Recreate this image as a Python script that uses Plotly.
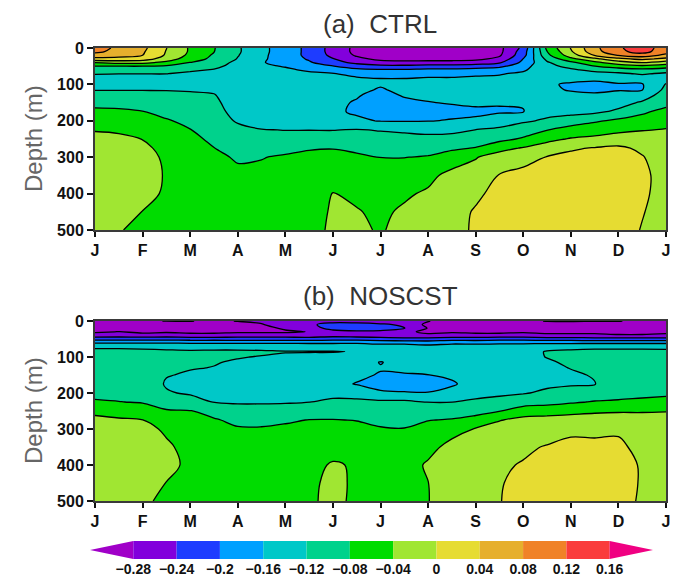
import plotly.graph_objects as go

# ---------------- data ----------------
months = [0, 0.5, 1, 1.5, 2, 2.5, 3, 3.5, 4, 4.5, 5, 5.5, 6,
          6.5, 7, 7.5, 8, 8.5, 9, 9.5, 10, 10.5, 11, 11.5, 12]
depths = [0, 10, 20, 30, 40, 50, 60, 70, 85, 100, 115, 130, 150, 175,
          200, 225, 250, 275, 300, 350, 400, 450, 500]

month_ticks = [0, 1, 2, 3, 4, 5, 6, 7, 8, 9, 10, 11, 12]
month_labels = ["J", "F", "M", "A", "M", "J", "J", "A", "S", "O", "N", "D", "J"]
depth_ticks = [0, 100, 200, 300, 400, 500]

levels = [-0.28, -0.24, -0.20, -0.16, -0.12, -0.08, -0.04, 0.0, 0.04, 0.08, 0.12, 0.16]
level_labels = ["\u22120.28", "\u22120.24", "\u22120.2", "\u22120.16", "\u22120.12", "\u22120.08",
                "\u22120.04", "0", "0.04", "0.08", "0.12", "0.16"]
band_colors = ["#a000c8", "#8200dc", "#1e3cff", "#00a0ff", "#00c8c8", "#00d28c", "#00dc00",
               "#a0e632", "#e6dc32", "#e6af2d", "#f08228", "#fa3c3c", "#f00082"]

# one vertical profile (values at `depths`) per month column
ctrl_profiles = [
    [0.10, 0.09, 0.06, 0.03, -0.04, -0.08, -0.105, -0.118, -0.13, -0.128, -0.121, -0.108, -0.088, -0.074, -0.058, -0.0415, -0.033, -0.028, -0.025, -0.022, -0.022, -0.025, -0.03],
    [0.07, 0.065, 0.05, 0.03, -0.03, -0.08, -0.105, -0.119, -0.132, -0.13, -0.121, -0.11, -0.09, -0.075, -0.06, -0.044, -0.034, -0.028, -0.025, -0.022, -0.024, -0.03, -0.038],
    [0.05, 0.045, 0.04, 0.02, -0.03, -0.08, -0.105, -0.119, -0.132, -0.13, -0.121, -0.112, -0.095, -0.079, -0.065, -0.052, -0.0405, -0.034, -0.031, -0.03, -0.033, -0.0405, -0.048],
    [0.001, -0.002, -0.005, -0.02, -0.05, -0.085, -0.108, -0.119, -0.132, -0.13, -0.121, -0.114, -0.103, -0.09, -0.077, -0.065, -0.055, -0.048, -0.044, -0.042, -0.043, -0.048, -0.055],
    [-0.045, -0.045, -0.05, -0.06, -0.081, -0.10, -0.115, -0.125, -0.133, -0.13, -0.122, -0.116, -0.109, -0.1, -0.088, -0.079, -0.07, -0.062, -0.057, -0.052, -0.05, -0.052, -0.056],
    [-0.078, -0.079, -0.085, -0.09, -0.10, -0.11, -0.122, -0.13, -0.135, -0.132, -0.125, -0.118, -0.113, -0.108, -0.102, -0.096, -0.088, -0.0795, -0.072, -0.062, -0.057, -0.057, -0.06],
    [-0.115, -0.115, -0.118, -0.122, -0.13, -0.135, -0.14, -0.142, -0.145, -0.145, -0.143, -0.14, -0.137, -0.132, -0.124, -0.11, -0.1, -0.092, -0.084, -0.072, -0.064, -0.06, -0.062],
    [-0.15, -0.15, -0.152, -0.155, -0.158, -0.155, -0.15, -0.148, -0.147, -0.147, -0.147, -0.145, -0.142, -0.137, -0.13, -0.119, -0.108, -0.093, -0.081, -0.074, -0.066, -0.062, -0.064],
    [-0.18, -0.18, -0.18, -0.175, -0.17, -0.162, -0.155, -0.15, -0.148, -0.148, -0.148, -0.146, -0.143, -0.138, -0.131, -0.1205, -0.11, -0.087, -0.077, -0.068, -0.064, -0.062, -0.063],
    [-0.21, -0.21, -0.21, -0.205, -0.195, -0.18, -0.165, -0.155, -0.15, -0.15, -0.15, -0.148, -0.145, -0.14, -0.132, -0.1205, -0.108, -0.082, -0.074, -0.066, -0.062, -0.058, -0.052],
    [-0.255, -0.255, -0.25, -0.238, -0.225, -0.198, -0.175, -0.159, -0.152, -0.152, -0.153, -0.154, -0.155, -0.155, -0.14, -0.121, -0.105, -0.081, -0.072, -0.052, -0.039, -0.035, -0.034],
    [-0.29, -0.29, -0.285, -0.27, -0.25, -0.22, -0.19, -0.17, -0.155, -0.153, -0.155, -0.158, -0.162, -0.164, -0.155, -0.118, -0.106, -0.086, -0.075, -0.058, -0.046, -0.038, -0.036],
    [-0.31, -0.31, -0.305, -0.29, -0.265, -0.23, -0.195, -0.172, -0.159, -0.158, -0.162, -0.168, -0.172, -0.175, -0.1615, -0.122, -0.108, -0.094, -0.0805, -0.064, -0.052, -0.046, -0.042],
    [-0.32, -0.32, -0.315, -0.295, -0.268, -0.23, -0.195, -0.172, -0.159, -0.155, -0.155, -0.158, -0.165, -0.172, -0.162, -0.125, -0.11, -0.097, -0.0805, -0.065, -0.045, -0.035, -0.033],
    [-0.32, -0.32, -0.315, -0.295, -0.265, -0.225, -0.19, -0.168, -0.157, -0.152, -0.152, -0.155, -0.161, -0.17, -0.161, -0.13, -0.11, -0.09, -0.078, -0.05, -0.035, -0.03, -0.028],
    [-0.32, -0.32, -0.315, -0.295, -0.265, -0.225, -0.19, -0.168, -0.157, -0.152, -0.152, -0.154, -0.158, -0.168, -0.158, -0.128, -0.108, -0.086, -0.063, -0.028, -0.018, -0.012, -0.012],
    [-0.31, -0.31, -0.305, -0.29, -0.26, -0.22, -0.185, -0.165, -0.155, -0.15, -0.15, -0.152, -0.155, -0.166, -0.155, -0.1195, -0.104, -0.078, -0.042, -0.025, -0.006, 0.003, 0.005],
    [-0.29, -0.29, -0.285, -0.27, -0.245, -0.21, -0.18, -0.163, -0.153, -0.148, -0.148, -0.15, -0.158, -0.163, -0.145, -0.11, -0.091, -0.051, -0.025, 0.002, 0.01, 0.012, 0.01],
    [-0.23, -0.22, -0.215, -0.199, -0.19, -0.175, -0.165, -0.155, -0.148, -0.145, -0.146, -0.15, -0.158, -0.161, -0.125, -0.1, -0.075, -0.037, -0.012, 0.01, 0.014, 0.016, 0.014],
    [-0.07, -0.081, -0.09, -0.11, -0.125, -0.13, -0.135, -0.14, -0.148, -0.155, -0.152, -0.145, -0.14, -0.13, -0.115, -0.081, -0.05, -0.023, 0.0015, 0.01, 0.015, 0.016, 0.015],
    [0.002, -0.005, -0.02, -0.05, -0.09, -0.11, -0.125, -0.135, -0.15, -0.165, -0.163, -0.15, -0.142, -0.132, -0.10, -0.064, -0.037, -0.004, 0.008, 0.012, 0.016, 0.017, 0.016],
    [0.07, 0.065, 0.042, -0.01, -0.05, -0.081, -0.11, -0.13, -0.155, -0.168, -0.166, -0.155, -0.145, -0.128, -0.085, -0.055, -0.032, 0.002, 0.01, 0.014, 0.017, 0.018, 0.017],
    [0.115, 0.11, 0.082, 0.03, -0.02, -0.06, -0.1, -0.125, -0.148, -0.163, -0.162, -0.15, -0.135, -0.112, -0.072, -0.05, -0.02, 0.006, 0.01, 0.016, 0.018, 0.018, 0.016],
    [0.14, 0.135, 0.1, 0.05, 0.002, -0.05, -0.09, -0.115, -0.14, -0.163, -0.161, -0.138, -0.115, -0.085, -0.068, -0.042, -0.02, -0.006, 0.002, 0.008, 0.006, 0.002, -0.002],
    [0.10, 0.095, 0.07, 0.03, -0.02, -0.06, -0.1, -0.125, -0.13, -0.118, -0.11, -0.102, -0.09, -0.071, -0.053, -0.038, -0.03, -0.024, -0.018, -0.014, -0.013, -0.015, -0.018],
]

noscst_profiles = [
    [-0.285, -0.30, -0.295, -0.285, -0.262, -0.215, -0.165, -0.128, -0.11, -0.105, -0.103, -0.102, -0.100, -0.097, -0.09, -0.076, -0.05, -0.03, -0.022, -0.018, -0.018, -0.022, -0.03],
    [-0.29, -0.295, -0.29, -0.279, -0.26, -0.215, -0.165, -0.128, -0.11, -0.106, -0.105, -0.104, -0.103, -0.1, -0.093, -0.079, -0.054, -0.036, -0.027, -0.022, -0.022, -0.026, -0.032],
    [-0.285, -0.30, -0.30, -0.29, -0.262, -0.215, -0.165, -0.129, -0.112, -0.108, -0.108, -0.108, -0.108, -0.106, -0.098, -0.083, -0.06, -0.0395, -0.03, -0.025, -0.026, -0.03, -0.036],
    [-0.279, -0.30, -0.295, -0.285, -0.26, -0.215, -0.165, -0.13, -0.115, -0.115, -0.117, -0.119, -0.119, -0.122, -0.118, -0.1, -0.076, -0.062, -0.045, -0.035, -0.032, -0.0405, -0.045],
    [-0.279, -0.29, -0.30, -0.29, -0.265, -0.218, -0.167, -0.13, -0.117, -0.118, -0.119, -0.119, -0.122, -0.126, -0.1225, -0.111, -0.078, -0.066, -0.057, -0.05, -0.046, -0.05, -0.055],
    [-0.285, -0.295, -0.30, -0.29, -0.265, -0.218, -0.167, -0.13, -0.116, -0.118, -0.119, -0.1205, -0.128, -0.133, -0.13, -0.121, -0.095, -0.076, -0.062, -0.054, -0.05, -0.052, -0.057],
    [-0.279, -0.29, -0.295, -0.285, -0.262, -0.218, -0.168, -0.13, -0.116, -0.119, -0.122, -0.128, -0.133, -0.137, -0.135, -0.124, -0.105, -0.09, -0.076, -0.062, -0.055, -0.054, -0.058],
    [-0.275, -0.282, -0.29, -0.285, -0.262, -0.218, -0.168, -0.13, -0.117, -0.121, -0.126, -0.13, -0.135, -0.138, -0.136, -0.124, -0.105, -0.089, -0.077, -0.062, -0.055, -0.053, -0.056],
    [-0.275, -0.265, -0.275, -0.285, -0.262, -0.218, -0.168, -0.13, -0.119, -0.123, -0.128, -0.132, -0.136, -0.139, -0.136, -0.123, -0.104, -0.085, -0.073, -0.06, -0.054, -0.052, -0.054],
    [-0.27, -0.25, -0.26, -0.279, -0.262, -0.22, -0.17, -0.13, -0.119, -0.125, -0.13, -0.134, -0.138, -0.14, -0.134, -0.1205, -0.101, -0.079, -0.072, -0.058, -0.049, -0.045, -0.043],
    [-0.26, -0.22, -0.225, -0.255, -0.255, -0.215, -0.17, -0.13, -0.119, -0.126, -0.133, -0.138, -0.145, -0.15, -0.132, -0.112, -0.095, -0.079, -0.068, -0.052, -0.037, -0.034, -0.035],
    [-0.27, -0.215, -0.21, -0.25, -0.26, -0.215, -0.17, -0.128, -0.121, -0.127, -0.138, -0.145, -0.152, -0.162, -0.135, -0.112, -0.094, -0.081, -0.072, -0.056, -0.043, -0.044, -0.044],
    [-0.275, -0.23, -0.22, -0.25, -0.265, -0.22, -0.175, -0.14, -0.13, -0.145, -0.162, -0.157, -0.163, -0.172, -0.155, -0.112, -0.098, -0.086, -0.078, -0.063, -0.053, -0.05, -0.052],
    [-0.279, -0.25, -0.238, -0.27, -0.27, -0.225, -0.175, -0.14, -0.135, -0.14, -0.145, -0.152, -0.163, -0.172, -0.158, -0.112, -0.1, -0.088, -0.079, -0.065, -0.054, -0.052, -0.054],
    [-0.279, -0.29, -0.282, -0.29, -0.27, -0.225, -0.18, -0.15, -0.14, -0.14, -0.145, -0.15, -0.1605, -0.17, -0.159, -0.121, -0.1, -0.081, -0.07, -0.05, -0.036, -0.0405, -0.041],
    [-0.29, -0.30, -0.29, -0.285, -0.265, -0.22, -0.17, -0.145, -0.14, -0.14, -0.142, -0.148, -0.156, -0.163, -0.152, -0.1205, -0.095, -0.078, -0.052, -0.03, -0.022, -0.02, -0.022],
    [-0.295, -0.30, -0.295, -0.29, -0.265, -0.22, -0.172, -0.145, -0.138, -0.137, -0.138, -0.142, -0.147, -0.15, -0.138, -0.11, -0.09, -0.07, -0.038, -0.018, -0.008, -0.004, -0.004],
    [-0.29, -0.295, -0.30, -0.29, -0.265, -0.215, -0.17, -0.143, -0.135, -0.133, -0.134, -0.137, -0.14, -0.14, -0.128, -0.106, -0.082, -0.042, -0.025, -0.01, -0.004, -0.002, -0.001],
    [-0.285, -0.295, -0.29, -0.285, -0.265, -0.215, -0.17, -0.14, -0.132, -0.13, -0.13, -0.132, -0.135, -0.132, -0.122, -0.1, -0.058, -0.03, -0.018, -0.005, 0.002, 0.008, 0.01],
    [-0.279, -0.29, -0.295, -0.29, -0.27, -0.22, -0.17, -0.135, -0.118, -0.119, -0.124, -0.127, -0.128, -0.125, -0.115, -0.095, -0.052, -0.03, -0.015, 0.002, 0.01, 0.014, 0.014],
    [-0.279, -0.285, -0.29, -0.29, -0.27, -0.22, -0.17, -0.132, -0.114, -0.112, -0.115, -0.119, -0.124, -0.123, -0.108, -0.085, -0.048, -0.028, -0.005, 0.006, 0.014, 0.016, 0.015],
    [-0.279, -0.29, -0.295, -0.29, -0.27, -0.225, -0.17, -0.13, -0.112, -0.11, -0.111, -0.114, -0.118, -0.121, -0.104, -0.077, -0.045, -0.025, -0.006, 0.006, 0.014, 0.016, 0.015],
    [-0.279, -0.295, -0.30, -0.295, -0.275, -0.225, -0.17, -0.13, -0.112, -0.108, -0.107, -0.107, -0.108, -0.106, -0.095, -0.075, -0.043, -0.025, -0.003, 0.004, 0.008, 0.009, 0.008],
    [-0.285, -0.30, -0.30, -0.295, -0.275, -0.225, -0.17, -0.13, -0.112, -0.107, -0.106, -0.106, -0.106, -0.104, -0.09, -0.072, -0.042, -0.03, -0.018, -0.006, -0.002, -0.002, -0.003],
    [-0.285, -0.30, -0.30, -0.29, -0.27, -0.225, -0.17, -0.13, -0.113, -0.107, -0.105, -0.104, -0.103, -0.1, -0.086, -0.07, -0.041, -0.03, -0.022, -0.015, -0.012, -0.012, -0.014],
]

panel_titles = ["(a)\u00a0\u00a0CTRL", "(b)\u00a0\u00a0NOSCST"]

# ---------------- figure ----------------
W, H = 675, 580
step = round(levels[1] - levels[0], 6)
nb = len(band_colors)
colorscale = [[i / (nb - 1), c] for i, c in enumerate(band_colors)]

def to_rows(profiles):
    return [list(r) for r in zip(*profiles)]

fig = go.Figure()
for k, prof in enumerate([ctrl_profiles, noscst_profiles]):
    sfx = "" if k == 0 else "2"
    fig.add_trace(go.Contour(
        x=months, y=depths, z=to_rows(prof),
        contours=dict(start=levels[0], end=levels[-1], size=step, coloring="fill", showlines=True),
        line=dict(color="#000000", width=1.3, smoothing=1),
        colorscale=colorscale, showscale=False, hoverinfo="skip",
        xaxis="x" + sfx, yaxis="y" + sfx,
    ))

# colour key (bands between levels, triangles for the open ends)
edges = [levels[0] - step] + levels + [levels[-1] + step]
for i, col in enumerate(band_colors):
    a, b = edges[i], edges[i + 1]
    if i == 0:
        xs, ys = [a, b, b, a], [0.5, 0, 1, 0.5]
    elif i == nb - 1:
        xs, ys = [a, b, a, a], [0, 0.5, 1, 0]
    else:
        xs, ys = [a, b, b, a, a], [0, 0, 1, 1, 0]
    fig.add_trace(go.Scatter(x=xs, y=ys, fill="toself", fillcolor=col, mode="lines",
                             line=dict(width=0, color=col), hoverinfo="skip",
                             showlegend=False, xaxis="x3", yaxis="y3"))

def px_x(p):
    return p / W

def px_y(p):
    return 1 - p / H

tick_font = dict(family="Liberation Sans Narrow, Arial Narrow, Liberation Sans", size=16,
                 color="#111111", weight="bold")
ytick_font = dict(family="Liberation Sans, Arial", size=16, color="#111111", weight="bold")

def xaxis_cfg(anchor):
    return dict(domain=[px_x(95), px_x(666)], range=[month_ticks[0], month_ticks[-1]],
                tickvals=month_ticks, ticktext=month_labels, ticks="outside", ticklen=5,
                tickwidth=2, tickcolor="#111111", showline=True, linecolor="#3a3a3a",
                linewidth=2, mirror=True, showgrid=False, zeroline=False,
                tickfont=tick_font, anchor=anchor, automargin=False)

def yaxis_cfg(anchor, dom):
    return dict(domain=dom, range=[depth_ticks[-1], depth_ticks[0]], tickvals=depth_ticks,
                ticks="outside", ticklen=6, tickwidth=2, tickcolor="#111111",
                showline=True, linecolor="#3a3a3a", linewidth=2, mirror=True,
                showgrid=False, zeroline=False, tickfont=ytick_font, anchor=anchor,
                automargin=False)

fig.update_layout(
    width=W, height=H, margin=dict(l=0, r=0, t=0, b=0, pad=0, autoexpand=False),
    paper_bgcolor="white", plot_bgcolor="white", showlegend=False,
    xaxis=xaxis_cfg("y"),
    yaxis=yaxis_cfg("x", [px_y(230), px_y(48)]),
    xaxis2=xaxis_cfg("y2"),
    yaxis2=yaxis_cfg("x2", [px_y(501), px_y(321)]),
    xaxis3=dict(domain=[px_x(90), px_x(653)], range=[edges[0], edges[-1]], anchor="y3",
                tickvals=levels, ticktext=level_labels, ticks="", showline=False,
                showgrid=False, zeroline=False, automargin=False,
                tickfont=dict(family="Liberation Sans, Arial", size=14, color="#111111",
                              weight="bold")),
    yaxis3=dict(domain=[px_y(559), px_y(541)], range=[0, 1], visible=False, anchor="x3",
                automargin=False),
)

annots = []
for t, yc in zip(panel_titles, [24, 296]):
    annots.append(dict(text=t, x=px_x(380), y=px_y(yc), xref="paper", yref="paper",
                       xanchor="center", yanchor="middle", showarrow=False,
                       font=dict(family="Liberation Sans Narrow, Arial Narrow, Liberation Sans",
                                 size=26, color="#333333")))
for yc in [139, 411]:
    annots.append(dict(text="Depth (m)", x=px_x(33), y=px_y(yc), xref="paper", yref="paper",
                       xanchor="center", yanchor="middle", showarrow=False, textangle=-90,
                       font=dict(family="Liberation Sans, Arial", size=24, color="#666666")))
fig.update_layout(annotations=annots)

fig.write_html("out.html", config={"displayModeBar": False, "staticPlot": True},
               post_script="document.body.style.margin='0';document.body.style.padding='0';")
